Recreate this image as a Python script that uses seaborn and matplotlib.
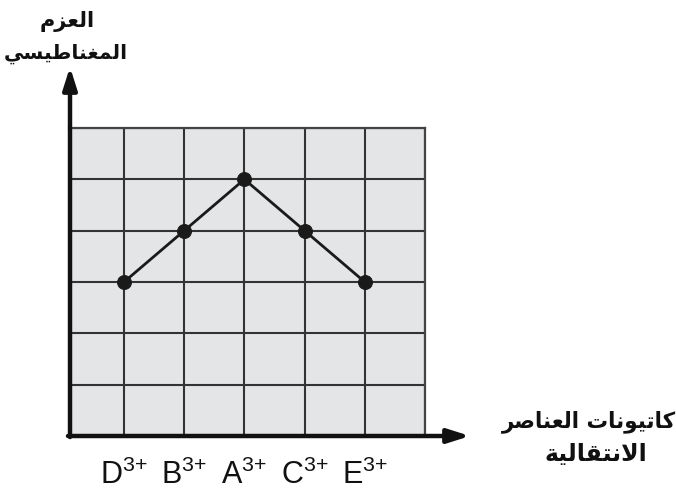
import matplotlib
matplotlib.use('Agg')
import matplotlib.pyplot as plt
import seaborn as sns
import pandas as pd

# Data
cations = ['D', 'B', 'A', 'C', 'E']
positions = [1, 2, 3, 4, 5]
moment = [3, 4, 5, 4, 3]
tick_labels = [c + r'$^{\text{3+}}$' for c in cations]

y_title = ['العزم', 'المغناطيسي']
x_title = ['كاتيونات العناصر', 'الانتقالية']

# minimal arabic shaping (matplotlib does not shape/bidi on its own)
forms = {
    'ا': ('\uFE8D', '\uFE8E'), 'ز': ('\uFEAF', '\uFEB0'), 'و': ('\uFEED', '\uFEEE'),
    'ر': ('\uFEAD', '\uFEAE'), 'ة': ('\uFE93', '\uFE94'),
    'ل': ('\uFEDD', '\uFEDE', '\uFEDF', '\uFEE0'), 'ع': ('\uFEC9', '\uFECA', '\uFECB', '\uFECC'),
    'م': ('\uFEE1', '\uFEE2', '\uFEE3', '\uFEE4'), 'غ': ('\uFECD', '\uFECE', '\uFECF', '\uFED0'),
    'ن': ('\uFEE5', '\uFEE6', '\uFEE7', '\uFEE8'), 'ط': ('\uFEC1', '\uFEC2', '\uFEC3', '\uFEC4'),
    'ي': ('\uFEF1', '\uFEF2', '\uFEF3', '\uFEF4'), 'س': ('\uFEB1', '\uFEB2', '\uFEB3', '\uFEB4'),
    'ك': ('\uFED9', '\uFEDA', '\uFEDB', '\uFEDC'), 'ت': ('\uFE95', '\uFE96', '\uFE97', '\uFE98'),
    'ص': ('\uFEB9', '\uFEBA', '\uFEBB', '\uFEBC'), 'ق': ('\uFED5', '\uFED6', '\uFED7', '\uFED8'),
}


def shape(text):
    # lam + alef ligature
    chars = []
    i = 0
    while i < len(text):
        if text[i] == 'ل' and i + 1 < len(text) and text[i + 1] == 'ا':
            chars.append('LA')
            i += 2
        else:
            chars.append(text[i])
            i += 1

    def dual(c):
        return c in forms and len(forms[c]) == 4

    def letter(c):
        return c in forms or c == 'LA'

    out = []
    for i, c in enumerate(chars):
        prev_joins = i > 0 and dual(chars[i - 1])
        if c == 'LA':
            out.append('\uFEFC' if prev_joins else '\uFEFB')
            continue
        if c not in forms:
            out.append(c)
            continue
        f = forms[c]
        next_ok = i + 1 < len(chars) and letter(chars[i + 1]) and dual(c)
        if prev_joins and next_ok:
            out.append(f[3])
        elif prev_joins:
            out.append(f[1])
        elif next_ok:
            out.append(f[2])
        else:
            out.append(f[0])
    return ''.join(out)[::-1]


sns.set_theme(style='white')
plt.rcParams['font.family'] = ['Liberation Sans', 'DejaVu Sans']
plt.rcParams['mathtext.fontset'] = 'custom'
plt.rcParams['mathtext.rm'] = 'Liberation Sans'
plt.rcParams['mathtext.default'] = 'regular'

df = pd.DataFrame({'pos': positions, 'moment': moment})

fig = plt.figure(figsize=(6.76, 4.89), dpi=100)
ax = fig.add_axes([69 / 676, 1 - 437 / 489, 356 / 676, 308 / 489])
ax.set_facecolor('#e4e5e7')

sns.lineplot(data=df, x='pos', y='moment', ax=ax, color='#1a1a1a', linewidth=2,
             marker='o', markersize=10, markeredgecolor='#1a1a1a', zorder=5)

ax.set_xlim(0.086, 6)
ax.set_ylim(0, 6)
# last grid column has no label
ax.set_xticks(positions + [6], labels=tick_labels + [''])
ax.set_yticks(range(7))
ax.grid(True, color='#333333', linewidth=1.5)
ax.set_axisbelow(True)
ax.tick_params(axis='x', length=0, pad=16, labelsize=22, labelcolor='#111111')
ax.tick_params(axis='y', length=0, labelleft=False)
ax.set_xlabel('')
ax.set_ylabel('')

for s in ['top', 'right']:
    ax.spines[s].set_color('#444444')
    ax.spines[s].set_linewidth(1.6)
for s in ['left', 'bottom']:
    ax.spines[s].set_visible(False)

# thick axis arrows
ax.annotate('', xy=(70 / 676, 1 - 68 / 489), xytext=(70 / 676, 1 - 438 / 489),
            xycoords='figure fraction', textcoords='figure fraction',
            arrowprops=dict(arrowstyle='-|>,head_length=1.1,head_width=0.35', color='#111111', lw=3.2,
                            shrinkA=0, shrinkB=0))
ax.annotate('', xy=(470 / 676, 1 - 437 / 489), xytext=(68 / 676, 1 - 437 / 489),
            xycoords='figure fraction', textcoords='figure fraction',
            arrowprops=dict(arrowstyle='-|>,head_length=1.1,head_width=0.35', color='#111111', lw=3.2,
                            shrinkA=0, shrinkB=0))

arabic = ['DejaVu Sans']
fig.text(67 / 676, 1 - 21 / 489, shape(y_title[0]), ha='center', va='center',
         fontsize=15, fontweight='bold', family=arabic, color='#111111')
fig.text(66 / 676, 1 - 54 / 489, shape(y_title[1]), ha='center', va='center',
         fontsize=14.5, fontweight='bold', family=arabic, color='#111111')
fig.text(589 / 676, 1 - 422 / 489, shape(x_title[0]), ha='center', va='center',
         fontsize=15.5, fontweight='bold', family=arabic, color='#111111')
fig.text(596 / 676, 1 - 454 / 489, shape(x_title[1]), ha='center', va='center',
         fontsize=17, fontweight='bold', family=arabic, color='#111111')

fig.savefig('out.png', dpi=100, facecolor='white')
